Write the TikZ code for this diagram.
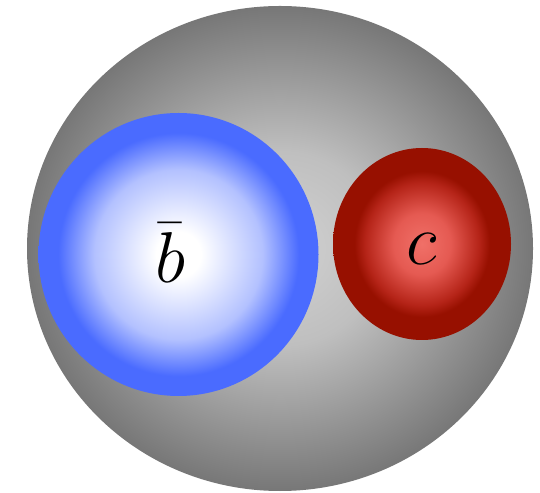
\RequirePackage{fix-cm}
\documentclass[tikz,border=0pt]{standalone}
\usetikzlibrary{shapes.geometric}
\definecolor{grayA}{HTML}{D2D2D2}
\definecolor{grayB}{HTML}{BFBFBF}
\definecolor{grayC}{HTML}{777777}
\definecolor{blueA}{HTML}{FFFFFF}
\definecolor{blueB}{HTML}{B3C1FF}
\definecolor{blueC}{HTML}{4A6BFF}
\definecolor{redA}{HTML}{F07068}
\definecolor{redB}{HTML}{E55A52}
\definecolor{redC}{HTML}{B52418}
\definecolor{redD}{HTML}{971000}
\pgfdeclareradialshading{grayball}{\pgfpointorigin}{color(0bp)=(grayA); color(10bp)=(grayB); color(25bp)=(grayC); color(50bp)=(grayC)}
\pgfdeclareradialshading{blueball}{\pgfpointorigin}{color(0bp)=(blueA); color(4bp)=(blueA); color(15bp)=(blueB); color(21.5bp)=(blueC); color(25bp)=(blueC); color(50bp)=(blueC)}
\pgfdeclareradialshading{redball}{\pgfpointorigin}{color(0bp)=(redA); color(8bp)=(redB); color(16bp)=(redC); color(19bp)=(redD); color(25bp)=(redD); color(50bp)=(redD)}
\tikzset{
  ball/.style={ellipse, inner sep=0pt, draw=none},
  letter/.style={anchor=base, inner sep=0pt, font=\fontsize{72}{80}\selectfont}
}
\begin{document}
\begin{tikzpicture}[x=1pt,y=1pt]
\useasboundingbox (0,0) rectangle (540,492);
\node[ball, shading=grayball, minimum width=506pt, minimum height=485pt] (outer) at (280,243.5) {};
\node[ball, shading=blueball, minimum width=280pt, minimum height=283pt] (bnode) at (178.5,237.5) {};
\node[ball, shading=redball, minimum width=178pt, minimum height=192pt] (cnode) at (422,248) {};
\node[letter] (blabel) at (170,209) {$\bar{b}$};
\node[letter] (clabel) at (421.5,227) {$c$};
\end{tikzpicture}
\end{document}
